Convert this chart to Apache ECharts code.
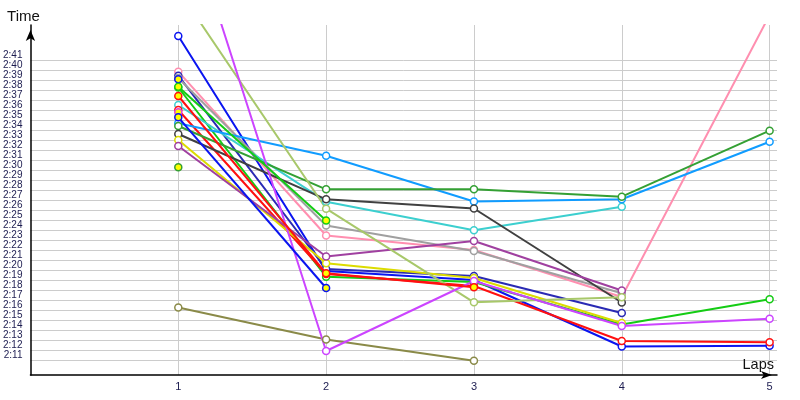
<!DOCTYPE html>
<html>
<head>
<meta charset="utf-8">
<script src="https://cdn.jsdelivr.net/npm/echarts@6/dist/echarts.min.js"></script>
<style>
    html, body { margin: 0; padding: 0; background: #fff; }
    #chart { width: 800px; height: 400px; }
</style>
</head>
<body>
<div id="chart"></div>
<script>
    // laps on the x axis, times in seconds (2:30 = 150)
    var laps = [1, 2, 3, 4, 5];
    var timeTicks = [131, 132, 133, 134, 135, 136, 137, 138, 139, 140, 141, 142, 143, 144, 145, 146,
        147, 148, 149, 150, 151, 152, 153, 154, 155, 156, 157, 158, 159, 160, 161];

    // one array per car, null = no lap recorded
    var blueTimes = [163.4, 139.9, 139.0, 132.35, 132.43];
    var pinkTimes = [159.83, 143.45, 142.0, 137.3, 165.5];
    var navyTimes = [159.43, 140.1, 139.4, 135.7, null];
    var greyTimes = [159.2, 144.45, 141.9, 137.67, null];
    var limeTimes = [158.25, 139.33, 138.8, 134.55, 137.07];
    var cyanTimes = [156.5, 146.83, 143.98, 146.33, null];
    var redTimes = [156.0, 139.6, 138.4, 132.9, 132.77];
    var skyTimes = [154.67, 151.43, 146.85, 147.07, 152.83];
    var forestTimes = [154.4, 148.07, 148.07, 147.33, 153.93];
    var darkTimes = [153.6, 147.07, 146.15, 136.75, null];
    var yellowTimes = [153.0, 140.67, 139.2, 134.7, null];
    var purpleTimes = [152.4, 141.35, 142.9, 137.95, null];
    var oliveTimes = [136.25, 133.05, 130.93, null, null];
    var sageTimes = [168.0, 146.13, 136.77, 137.27, null];
    var violetTimes = [178.0, 131.9, 138.9, 134.4, 135.13];
    // second class (yellow dot)
    var blueBTimes = [159.07, null, null, null, null];
    var greenBTimes = [158.33, 144.95, null, null, null];
    var redBTimes = [157.4, 139.67, 138.27, null, null];
    var magentaBTimes = [155.77, null, null, null, null];
    var blueCTimes = [155.27, 138.2, null, null, null];
    var greenCTimes = [150.27, null, null, null, null];

    var cars = [
        {times: blueTimes, color: '#0a14f0', cls: 0},
        {times: pinkTimes, color: '#ff8fb0', cls: 0},
        {times: navyTimes, color: '#2a2ab4', cls: 0},
        {times: greyTimes, color: '#a0a0a0', cls: 0},
        {times: limeTimes, color: '#14cc14', cls: 0},
        {times: cyanTimes, color: '#3ccfcf', cls: 0},
        {times: redTimes, color: '#ff1010', cls: 0},
        {times: skyTimes, color: '#109cff', cls: 0},
        {times: forestTimes, color: '#34a034', cls: 0},
        {times: darkTimes, color: '#404040', cls: 0},
        {times: yellowTimes, color: '#dcdc00', cls: 0},
        {times: purpleTimes, color: '#a040a0', cls: 0},
        {times: oliveTimes, color: '#8a8a48', cls: 0},
        {times: sageTimes, color: '#a8c86a', cls: 0},
        {times: violetTimes, color: '#cc44ff', cls: 0},
        {times: blueBTimes, color: '#0a14f0', cls: 1},
        {times: greenBTimes, color: '#14cc14', cls: 1},
        {times: redBTimes, color: '#ff1010', cls: 1},
        {times: magentaBTimes, color: '#e040e0', cls: 1},
        {times: blueCTimes, color: '#0a14f0', cls: 1},
        {times: greenCTimes, color: '#34a034', cls: 1}
    ];

    function fmtTime(v) {
        var m = Math.floor(v / 60), s = Math.round(v - m * 60);
        return m + ':' + (s < 10 ? '0' + s : s);
    }

    var labelFont = 'Liberation Sans';
    var series = cars.map(function (c, idx) {
        var pts = [];
        c.times.forEach(function (t, i) {
            if (t != null) pts.push([laps[i], t]);
        });
        return {
            name: 'car' + idx, type: 'line', data: pts,
            symbol: 'circle', symbolSize: 7, showAllSymbol: true,
            lineStyle: {color: c.color, width: 2},
            itemStyle: {color: c.cls ? '#ffff00' : '#ffffff', borderColor: c.color, borderWidth: 1.5},
            emphasis: {disabled: true},
            z: c.cls ? 3 : 2
        };
    });

    var chart = echarts.init(document.getElementById('chart'));
    chart.setOption({
        animation: false,
        backgroundColor: '#ffffff',
        grid: {left: 30, right: 23, top: 25, bottom: 25},
        xAxis: {
            type: 'value', min: 0, max: 5.05, interval: 1,
            name: 'Laps', nameLocation: 'end', nameGap: -3,
            nameTextStyle: {fontFamily: labelFont, fontSize: 14.5, color: '#111', align: 'right', verticalAlign: 'bottom', padding: [0, 0, 3, 0]},
            axisLine: {show: true, lineStyle: {color: '#000', width: 1.5}, symbol: ['none', 'arrow'], symbolSize: [6, 11], symbolOffset: [0, -5]},
            axisTick: {show: false},
            axisLabel: {showMinLabel: false, showMaxLabel: false, margin: 6, color: '#1c1c50', fontSize: 11, fontFamily: labelFont},
            splitLine: {show: true, showMinLine: false, showMaxLine: false, lineStyle: {color: '#cccccc', width: 1}}
        },
        yAxis: {
            type: 'value', min: 129.5, max: 164.5,
            name: 'Time', nameLocation: 'end', nameGap: 1,
            nameTextStyle: {fontFamily: labelFont, fontSize: 15, color: '#111', padding: [0, 14, 0, 0]},
            axisLine: {show: true, lineStyle: {color: '#000', width: 1.5}, symbol: ['none', 'arrow'], symbolSize: [7, 11], symbolOffset: [0, -5]},
            axisTick: {show: false, customValues: timeTicks},
            axisLabel: {customValues: timeTicks, formatter: fmtTime, verticalAlign: 'bottom', margin: 8,
                color: '#1c1c50', fontSize: 10, fontFamily: labelFont},
            splitLine: {show: true, lineStyle: {color: '#cccccc', width: 1}}
        },
        series: series
    });
</script>
</body>
</html>
